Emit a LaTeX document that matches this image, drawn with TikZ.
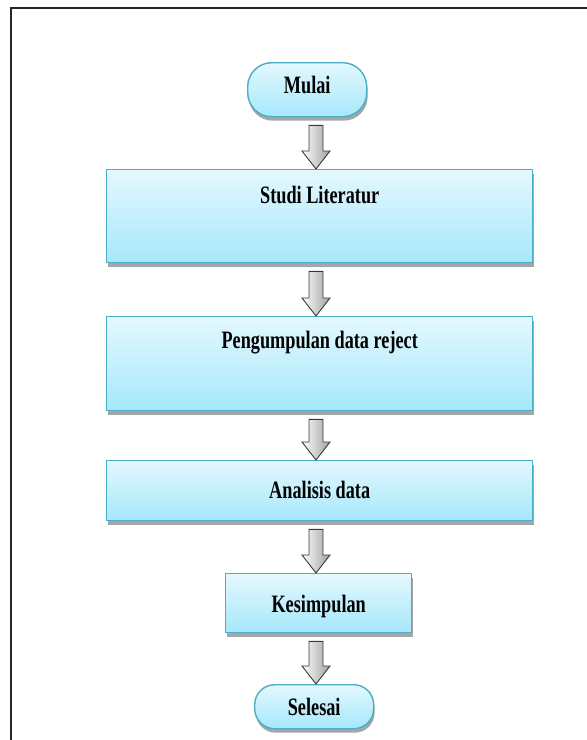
\documentclass[tikz,border=0pt]{standalone}
\usepackage{fontspec}
\usepackage{graphicx}
\setmainfont{Liberation Serif}
\usetikzlibrary{calc,shadows}
\definecolor{boxtop}{HTML}{E4F8FE}
\definecolor{boxbot}{HTML}{A5E8FB}
\definecolor{boxline}{HTML}{4BADC6}
\newcommand\lbl[1]{\scalebox{0.73}[1]{#1}}
\tikzset{
  box/.style={draw=boxline, line width=1.4pt, top color=boxtop, bottom color=boxbot,
    inner sep=0pt, anchor=north west,
    font=\fontsize{25}{30}\selectfont\bfseries,
    drop shadow={shadow xshift=1pt, shadow yshift=-4pt, fill=gray!70, opacity=1}},
  termbox/.style={box, rounded corners=#1},
  blkarr/.style={draw=gray!45!black, line width=0.9pt, left color=white, right color=gray!75}
}
\newcommand\blkarrow[2]{\path[blkarr] let \p1=(#1.south), \p2=(#2.north) in
  (309pt,\y1-8pt) -- (323pt,\y1-8pt) -- (323pt,\y2+18pt) -- (330pt,\y2+18pt) --
  (316pt,\y2) -- (302pt,\y2+18pt) -- (309pt,\y2+18pt) -- cycle;}
\begin{document}
\begin{tikzpicture}[x=1pt,y=-1pt]
\useasboundingbox (0,0) rectangle (587,740);
\fill[white] (0,0) rectangle (587,740);
\draw[line width=2pt, black!85] (587,8) -- (11,8) -- (11,740);
\node[termbox=24pt, minimum width=119pt, text height=31pt, text depth=23pt] (mulai) at (247,62) {\lbl{Mulai}};
\node[box, minimum width=426pt, text height=34pt, text depth=59pt] (studi) at (106,169) {\lbl{Studi Literatur}};
\node[box, minimum width=426pt, text height=32pt, text depth=62pt] (kumpul) at (106,316) {\lbl{Pengumpulan data reject}};
\node[box, minimum width=426pt, text height=38pt, text depth=22pt] (analisis) at (106,460) {\lbl{Analisis data}};
\node[box, minimum width=186pt, text height=39pt, text depth=20pt] (simpul) at (225,573) {\lbl{Kesimpulan}};
\node[termbox=20pt, minimum width=119pt, text height=31pt, text depth=13pt] (selesai) at (254,684) {\lbl{Selesai}};
\blkarrow{mulai}{studi}
\blkarrow{studi}{kumpul}
\blkarrow{kumpul}{analisis}
\blkarrow{analisis}{simpul}
\blkarrow{simpul}{selesai}
\end{tikzpicture}
\end{document}
